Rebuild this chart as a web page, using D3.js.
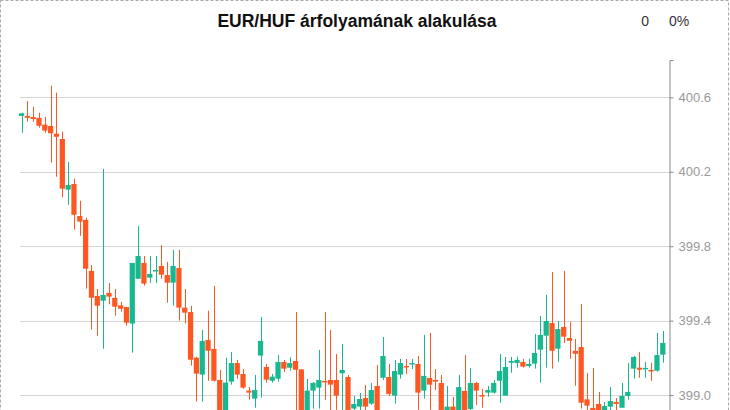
<!DOCTYPE html>
<html>
<head>
<meta charset="utf-8">
<script src="https://cdn.jsdelivr.net/npm/d3@7"></script>
<style>
  html, body { margin: 0; padding: 0; background: #fff; overflow: hidden; }
  svg { display: block; }
</style>
</head>
<body>
<div id="chart"></div>
<script>
const title = "EUR/HUF árfolyamának alakulása";
const changeLabels = ["0", "0%"];
const yTicks = [399.0, 399.4, 399.8, 400.2, 400.6];
const yDomain = [398.6, 400.8];

const open = [
400.500, 400.500, 400.494, 400.489, 400.453, 400.446, 400.404, 400.376, 400.104, 400.134,
399.962, 399.941, 399.667, 399.532, 399.507, 399.549, 399.522, 399.482, 399.473, 399.384,
399.625, 399.710, 399.631, 399.670, 399.694, 399.645, 399.604, 399.683, 399.470, 399.446,
399.201, 399.110, 399.296, 399.248, 399.081, 398.890, 399.072, 399.172, 399.113, 399.024,
398.981, 399.212, 399.151, 399.077, 399.088, 399.178, 399.147, 399.183, 399.138, 398.880,
399.024, 399.040, 399.076, 399.081, 399.081, 399.117, 399.097, 398.927, 398.938, 398.984,
398.954, 399.049, 399.093, 399.097, 398.997, 399.110, 399.156, 399.167, 399.167, 399.024,
399.092, 399.081, 399.065, 398.880, 398.938, 398.890, 399.022, 398.925, 399.065, 399.000,
399.013, 399.013, 399.077, 398.997, 399.174, 399.172, 399.178, 399.156, 399.169, 399.244,
399.319, 399.387, 399.249, 399.366, 399.307, 399.238, 399.258, 398.977, 398.931, 398.952,
398.900, 398.938, 398.963, 398.932, 398.995, 399.142, 399.147, 399.140, 399.135, 399.131,
399.217
];
const high = [
400.517, 400.580, 400.550, 400.517, 400.494, 400.662, 400.625, 400.415, 400.252, 400.163,
400.044, 399.953, 399.699, 399.570, 400.215, 399.602, 399.570, 399.500, 399.475, 399.710,
399.909, 399.747, 399.747, 399.747, 399.806, 399.715, 399.780, 399.780, 399.570, 399.479,
399.206, 399.350, 399.453, 399.586, 399.135, 399.201, 399.232, 399.189, 399.140, 399.043,
399.108, 399.420, 399.167, 399.113, 399.215, 399.189, 399.203, 399.446, 399.140, 399.086,
399.070, 399.242, 399.446, 399.350, 399.221, 399.275, 399.108, 398.995, 399.011, 399.054,
399.065, 399.162, 399.312, 399.167, 399.189, 399.194, 399.194, 399.194, 399.210, 399.324,
399.334, 399.140, 399.108, 399.049, 398.991, 399.108, 399.215, 399.146, 399.070, 399.034,
399.049, 399.081, 399.221, 399.205, 399.205, 399.206, 399.194, 399.196, 399.328, 399.425,
399.538, 399.661, 399.398, 399.667, 399.393, 399.301, 399.489, 399.119, 399.146, 399.017,
398.963, 399.043, 398.984, 399.065, 399.172, 399.210, 399.232, 399.178, 399.174, 399.334,
399.344
];
const low = [
400.410, 400.469, 400.469, 400.437, 400.410, 400.249, 400.173, 400.063, 400.023, 399.889,
399.856, 399.572, 399.351, 399.319, 399.249, 399.488, 399.427, 399.448, 399.373, 399.228,
399.625, 399.588, 399.604, 399.602, 399.625, 399.496, 399.480, 399.400, 399.384, 399.158,
398.965, 398.965, 399.077, 399.072, 398.840, 398.850, 399.056, 399.088, 399.034, 398.975,
398.932, 398.986, 399.067, 399.067, 399.072, 399.124, 399.131, 398.890, 398.870, 398.860,
398.927, 398.927, 398.974, 398.880, 398.920, 398.880, 398.850, 398.890, 398.890, 398.880,
398.947, 398.860, 399.081, 398.995, 398.954, 399.088, 399.113, 399.140, 398.920, 398.981,
398.920, 399.027, 398.870, 398.860, 398.880, 398.870, 398.860, 398.900, 398.947, 398.932,
398.991, 399.008, 398.959, 398.997, 399.120, 399.147, 399.147, 399.147, 399.142, 399.067,
399.147, 399.142, 399.179, 399.280, 399.196, 399.050, 398.927, 398.900, 398.860, 398.870,
398.880, 398.890, 398.900, 398.932, 398.975, 399.088, 399.093, 399.093, 399.077, 399.126,
399.174
];
const close = [
400.514, 400.490, 400.483, 400.447, 400.421, 400.407, 400.388, 400.109, 400.129, 399.969,
399.932, 399.679, 399.523, 399.480, 399.538, 399.529, 399.475, 399.464, 399.389, 399.710,
399.747, 399.599, 399.651, 399.672, 399.647, 399.604, 399.694, 399.470, 399.443, 399.190,
399.115, 399.291, 399.238, 399.077, 398.880, 399.067, 399.172, 399.110, 399.040, 399.013,
399.027, 399.291, 399.083, 399.099, 399.178, 399.142, 399.172, 399.136, 398.900, 399.024,
399.065, 399.081, 399.070, 399.056, 398.997, 399.135, 398.880, 398.952, 398.979, 398.938,
399.027, 398.890, 399.210, 399.006, 399.129, 399.172, 399.151, 399.172, 399.013, 399.103,
399.056, 399.072, 398.900, 398.938, 398.900, 399.043, 398.890, 399.065, 399.024, 398.995,
399.027, 399.065, 399.129, 399.151, 399.183, 399.189, 399.153, 399.167, 399.226, 399.323,
399.398, 399.238, 399.355, 399.314, 399.292, 399.222, 398.959, 398.943, 398.890, 398.900,
398.941, 398.968, 398.952, 398.995, 399.017, 399.205, 399.136, 399.146, 399.129, 399.215,
399.280
];

const W = 730, H = 480;
const up = "#17b890", down = "#ff5722";

const svg = d3.select("#chart").append("svg")
  .attr("width", W).attr("height", H);

// dashed frame
svg.append("rect")
  .attr("x", 0.5).attr("y", 0.5)
  .attr("width", W - 2).attr("height", H - 2)
  .attr("fill", "none")
  .attr("stroke", "#aaa")
  .attr("stroke-dasharray", "3,2");

const plotLeft = 20, plotRight = 669;
const candles = open.map((o, i) => ({i, o, h: high[i], l: low[i], c: close[i]}));

const x = d3.scaleBand()
  .domain(candles.map(d => d.i))
  .range([18.3, 666])
  .padding(0.1);

const y = d3.scaleLinear().domain(yDomain).range([469.5, 60.1]);

// gridlines
svg.append("g")
  .selectAll("line")
  .data(yTicks)
  .join("line")
  .attr("x1", plotLeft).attr("x2", plotRight)
  .attr("y1", d => Math.round(y(d)) + 0.5)
  .attr("y2", d => Math.round(y(d)) + 0.5)
  .attr("stroke", "#d5d5d5")
  .attr("stroke-width", 1);

// right axis
const axis = d3.axisRight(y)
  .tickValues(yTicks)
  .tickFormat(d3.format(".1f"))
  .tickSize(4)
  .tickPadding(5);
const ag = svg.append("g")
  .attr("transform", `translate(${plotRight + 0.5},0)`)
  .call(axis);
ag.select(".domain").attr("stroke", "#888");
ag.selectAll(".tick line").attr("stroke", "#888");
ag.selectAll(".tick text")
  .attr("fill", "#999")
  .attr("font-family", "'Liberation Sans', Arial, sans-serif")
  .attr("font-size", 13);

// candles
const g = svg.append("g");
const bw = x.bandwidth();
g.selectAll("line.wick")
  .data(candles)
  .join("line")
  .attr("class", "wick")
  .attr("x1", d => Math.round(x(d.i) + bw / 2) + 0.5)
  .attr("x2", d => Math.round(x(d.i) + bw / 2) + 0.5)
  .attr("y1", d => y(d.h))
  .attr("y2", d => y(d.l))
  .attr("stroke", d => d.c >= d.o ? up : down)
  .attr("stroke-width", 1);

g.selectAll("rect.body")
  .data(candles)
  .join("rect")
  .attr("class", "body")
  .attr("x", d => x(d.i))
  .attr("width", bw)
  .attr("y", d => y(Math.max(d.o, d.c)))
  .attr("height", d => Math.max(1.5, Math.abs(y(d.o) - y(d.c))))
  .attr("fill", d => d.c >= d.o ? up : down);

// title
svg.append("text")
  .attr("x", 357).attr("y", 27)
  .attr("text-anchor", "middle")
  .attr("font-family", "'Liberation Sans', Arial, sans-serif")
  .attr("font-weight", "bold")
  .attr("font-size", 17.5)
  .attr("fill", "#111")
  .text(title);

svg.append("text")
  .attr("x", 649).attr("y", 26)
  .attr("text-anchor", "end")
  .attr("font-family", "'Liberation Sans', Arial, sans-serif")
  .attr("font-size", 14)
  .attr("fill", "#333")
  .text(changeLabels[0]);
svg.append("text")
  .attr("x", 669).attr("y", 26)
  .attr("text-anchor", "start")
  .attr("font-family", "'Liberation Sans', Arial, sans-serif")
  .attr("font-size", 14)
  .attr("fill", "#333")
  .text(changeLabels[1]);
</script>
</body>
</html>
